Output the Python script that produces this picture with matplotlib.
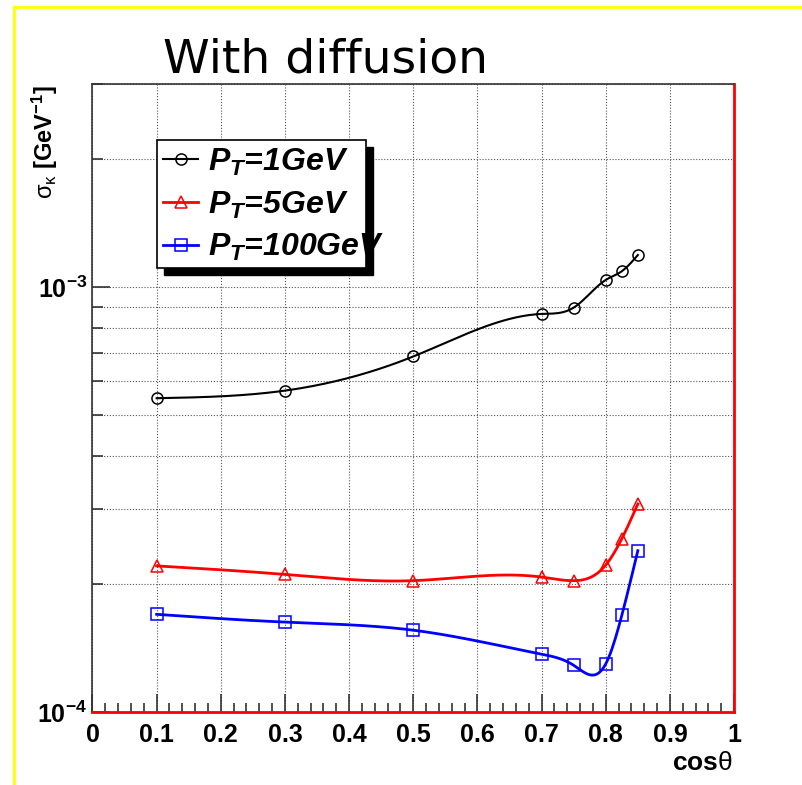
import numpy as np
import matplotlib
matplotlib.use("Agg")
import matplotlib.pyplot as plt
from matplotlib.lines import Line2D
from matplotlib.patches import Rectangle
from matplotlib.ticker import LogLocator, NullFormatter, FixedLocator, MultipleLocator
from matplotlib.font_manager import FontProperties

plt.rcParams["font.family"] = ["Liberation Sans", "DejaVu Sans"]
plt.rcParams["mathtext.fontset"] = "custom"
plt.rcParams["mathtext.rm"] = "Liberation Sans"
plt.rcParams["mathtext.bf"] = "Liberation Sans:bold"
plt.rcParams["mathtext.it"] = "Liberation Sans:bold:italic"

cos_theta = [0.1, 0.3, 0.5, 0.7, 0.75, 0.8, 0.825, 0.85]
sigma_pt1 = [5.48e-4, 5.71e-4, 6.87e-4, 8.65e-4, 8.95e-4, 1.04e-3, 1.09e-3, 1.19e-3]
sigma_pt5 = [2.21e-4, 2.11e-4, 2.04e-4, 2.08e-4, 2.04e-4, 2.22e-4, 2.56e-4, 3.09e-4]
sigma_pt100 = [1.70e-4, 1.63e-4, 1.56e-4, 1.37e-4, 1.29e-4, 1.30e-4, 1.69e-4, 2.40e-4]

series = [
    (r"$P_T$=1GeV", sigma_pt1, "black", "o", 1.5),
    (r"$P_T$=5GeV", sigma_pt5, "red", "^", 2.0),
    (r"$P_T$=100GeV", sigma_pt100, "blue", "s", 2.0),
]

x_ticks = [0, 0.1, 0.2, 0.3, 0.4, 0.5, 0.6, 0.7, 0.8, 0.9, 1]
x_tick_labels = ["0", "0.1", "0.2", "0.3", "0.4", "0.5", "0.6", "0.7", "0.8", "0.9", "1"]


def smooth_curve(x, y, n=300):
    """Natural cubic spline through (x, log10 y), like ROOT's "C" draw option."""
    x = np.asarray(x, float)
    ly = np.log10(np.asarray(y, float))
    k = len(x)
    h = np.diff(x)
    a = np.zeros((k, k))
    b = np.zeros(k)
    a[0, 0] = a[-1, -1] = 1.0
    for i in range(1, k - 1):
        a[i, i - 1] = h[i - 1]
        a[i, i] = 2 * (h[i - 1] + h[i])
        a[i, i + 1] = h[i]
        b[i] = 6 * ((ly[i + 1] - ly[i]) / h[i] - (ly[i] - ly[i - 1]) / h[i - 1])
    m = np.linalg.solve(a, b)
    xs = np.linspace(x[0], x[-1], n)
    idx = np.clip(np.searchsorted(x, xs) - 1, 0, k - 2)
    x0, x1 = x[idx], x[idx + 1]
    hh = x1 - x0
    t0, t1 = x1 - xs, xs - x0
    ys = (m[idx] * t0 ** 3 + m[idx + 1] * t1 ** 3) / (6 * hh) \
        + (ly[idx] / hh - m[idx] * hh / 6) * t0 \
        + (ly[idx + 1] / hh - m[idx + 1] * hh / 6) * t1
    return xs, 10 ** ys


fig = plt.figure(figsize=(8.02, 7.85), dpi=100)
ax = fig.add_axes([0.1153, 0.0926, 0.8000, 0.8000])

handles = []
for label, vals, color, marker, lw in series:
    xs, ys = smooth_curve(cos_theta, vals)
    ln, = ax.plot(xs, ys, color=color, linewidth=lw, zorder=3)
    mk, = ax.plot(cos_theta, vals, linestyle="none", marker=marker,
                  markersize=8, markerfacecolor="none", markeredgecolor=color,
                  markeredgewidth=1.1, zorder=4)
    handles.append(((ln, mk), label))

ax.set_yscale("log")
ax.set_xlim(0, 1)
ax.set_ylim(1e-4, 3e-3)

ax.xaxis.set_major_locator(FixedLocator(x_ticks))
ax.set_xticklabels(x_tick_labels)
ax.xaxis.set_minor_locator(MultipleLocator(0.02))
ax.yaxis.set_major_locator(FixedLocator([1e-4, 1e-3]))
ax.set_yticklabels([r"$\mathbf{10^{-4}}$", r"$\mathbf{10^{-3}}$"])
ax.yaxis.set_minor_locator(LogLocator(base=10, subs=np.arange(2, 10)))
ax.yaxis.set_minor_formatter(NullFormatter())

ax.tick_params(axis="both", which="both", direction="in", top=False, right=False,
               color="#333333", width=1.2)
ax.tick_params(axis="x", which="major", length=13, pad=8, labelsize=18)
ax.tick_params(axis="x", which="minor", length=6.5)
ax.tick_params(axis="y", which="major", length=13, pad=4, labelsize=18)
ax.tick_params(axis="y", which="minor", length=8)
for lbl in ax.get_xticklabels():
    lbl.set_fontweight("bold")

ax.grid(True, which="major", axis="x", color="#555555", linewidth=0.8, linestyle=(0, (1, 1.6)))
ax.grid(True, which="both", axis="y", color="#555555", linewidth=0.8, linestyle=(0, (1, 1.6)))
ax.set_axisbelow(True)

ax.spines["top"].set_color("#333333")
ax.spines["left"].set_color("#333333")
ax.spines["top"].set_linewidth(1.2)
ax.spines["left"].set_linewidth(1.2)
ax.spines["bottom"].set_color("red")
ax.spines["right"].set_color("red")
ax.spines["bottom"].set_linewidth(2)
ax.spines["right"].set_linewidth(2)

# ROOT-style legend box: black drop shadow, text allowed to run over the edge
ax.add_patch(Rectangle((0.1114, 0.6963), 0.3258, 0.2038, transform=ax.transAxes,
                       facecolor="black", edgecolor="black", zorder=5))
ax.add_patch(Rectangle((0.1005, 0.7075), 0.3258, 0.2038, transform=ax.transAxes,
                       facecolor="white", edgecolor="black", linewidth=1.2, zorder=5))
leg = ax.legend([h for h, _ in handles], [l for _, l in handles],
                loc="upper left", bbox_to_anchor=(0.110, 0.901),
                borderaxespad=0, borderpad=0, frameon=False, handlelength=1.1,
                handletextpad=0.3, labelspacing=0.37,
                prop=FontProperties(family="Liberation Sans", weight="bold",
                                    style="italic", size=23))
leg.set_zorder(6)

fig.text(163 / 802, 0.908, "With diffusion", fontsize=34, family="DejaVu Sans",
         ha="left", va="baseline")
fig.text(45 / 802, 0.8917, r"$\mathrm{\sigma_{\kappa}}$ $\mathbf{[GeV^{-1}]}$",
         fontsize=17, rotation=90, ha="center", va="top")
fig.text(733 / 802, 15 / 785, r"cos$\mathrm{\theta}$", fontsize=19, fontweight="bold",
         ha="right", va="baseline")

# yellow slide border on the left and top
fig.add_artist(Line2D([14 / 802, 14 / 802], [0, 1 - 7 / 785], color="yellow", linewidth=2))
fig.add_artist(Line2D([14 / 802, 1], [1 - 7 / 785, 1 - 7 / 785], color="yellow", linewidth=2))

fig.savefig("out.png", dpi=100)
